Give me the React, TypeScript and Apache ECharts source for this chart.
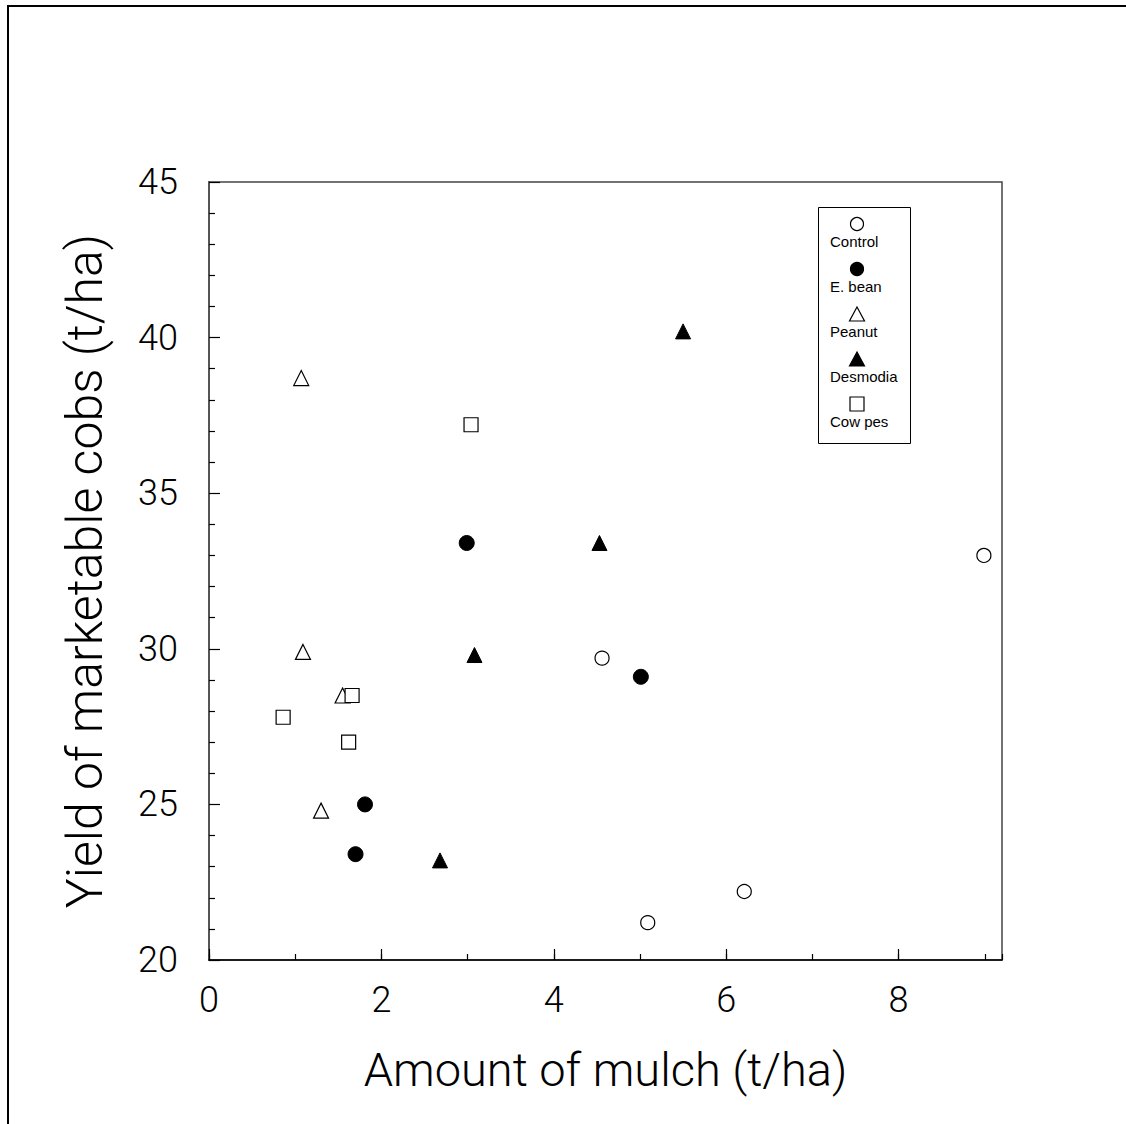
import React, { useEffect, useRef } from "react";
import * as echarts from "echarts";

const seriesNames = ["Control", "E. bean", "Peanut", "Desmodia", "Cow pes"];
const controlData = [[8.99, 33.0], [4.56, 29.7], [5.09, 21.2], [6.21, 22.2]];
const ebeanData = [[2.99, 33.4], [5.01, 29.1], [1.81, 25.0], [1.7, 23.4]];
const peanutData = [[1.07, 38.7], [1.09, 29.9], [1.55, 28.5], [1.3, 24.8]];
const desmodiaData = [[5.5, 40.2], [4.53, 33.4], [3.08, 29.8], [2.68, 23.2]];
const cowpesData = [[3.04, 37.2], [1.66, 28.5], [0.86, 27.8], [1.62, 27.0]];
const xTitle = "Amount of mulch (t/ha)";
const yTitle = "Yield of marketable cobs (t/ha)";

const FONT = "Roboto";

export default function App() {
  const ref = useRef<HTMLDivElement>(null);
  useEffect(() => {
    if (!ref.current) return;
    const chart = echarts.init(ref.current, null, { renderer: "svg" });
    const open = { color: "#fff", borderColor: "#000", borderWidth: 1.2, opacity: 1 };
    const filled = { color: "#000", borderColor: "#000", borderWidth: 1, opacity: 1 };
    const styles = [
      { symbol: "circle", size: 14, item: open },
      { symbol: "circle", size: 15, item: filled },
      { symbol: "triangle", size: 15, item: open },
      { symbol: "triangle", size: 15, item: filled },
      { symbol: "rect", size: 14, item: open },
    ];
    const datas = [controlData, ebeanData, peanutData, desmodiaData, cowpesData];

    const legendX = 857;
    const legendGraphics: any[] = [
      {
        type: "rect",
        shape: { x: 818.5, y: 207.5, width: 92, height: 236 },
        style: { fill: "#fff", stroke: "#000", lineWidth: 1 },
        z: 10,
      },
    ];
    seriesNames.forEach((name, i) => {
      const cy = 224 + i * 45;
      const st = styles[i];
      const fill = st.item.color;
      if (st.symbol === "circle") {
        legendGraphics.push({
          type: "circle",
          shape: { cx: legendX, cy, r: 6.5 },
          style: { fill, stroke: "#000", lineWidth: 1.2 },
          z: 11,
        });
      } else if (st.symbol === "triangle") {
        legendGraphics.push({
          type: "polygon",
          shape: { points: [[legendX, cy - 7], [legendX + 7.5, cy + 7], [legendX - 7.5, cy + 7]] },
          style: { fill, stroke: "#000", lineWidth: 1.2 },
          z: 11,
        });
      } else {
        legendGraphics.push({
          type: "rect",
          shape: { x: legendX - 7, y: cy - 7, width: 14, height: 14 },
          style: { fill, stroke: "#000", lineWidth: 1.2 },
          z: 11,
        });
      }
      legendGraphics.push({
        type: "text",
        x: 830,
        y: cy + 17,
        style: {
          text: name,
          fill: "#000",
          font: "15px 'Liberation Sans', Arial, sans-serif",
          textAlign: "left",
          textVerticalAlign: "middle",
        },
        z: 11,
      });
    });

    chart.setOption({
      animation: false,
      backgroundColor: "#fff",
      grid: {
        left: 209,
        top: 182,
        right: 124,
        bottom: 164,
        show: true,
        borderColor: "#444",
        borderWidth: 1.5,
        backgroundColor: "transparent",
      },
      xAxis: [
        {
          type: "value",
          min: 0,
          max: 9.2,
          interval: 2,
          name: xTitle,
          nameLocation: "middle",
          nameGap: 86,
          nameTextStyle: { fontFamily: FONT, fontWeight: 300, fontSize: 47, color: "#000" },
          axisLine: { show: true, lineStyle: { color: "#000", width: 1.5 } },
          axisTick: { show: true, inside: true, length: 11, lineStyle: { color: "#000", width: 1.2 } },
          axisLabel: {
            showMaxLabel: false,
            margin: 22,
            fontFamily: FONT,
            fontWeight: 300,
            fontSize: 36,
            color: "#000",
          },
          splitLine: { show: false },
        },
        {
          type: "value",
          min: 0,
          max: 9.2,
          interval: 1,
          position: "bottom",
          axisLine: { show: false },
          axisTick: { show: true, inside: true, length: 6, lineStyle: { color: "#000", width: 1.2 } },
          axisLabel: { show: false },
          splitLine: { show: false },
        },
      ],
      yAxis: {
        type: "value",
        min: 20,
        max: 45,
        interval: 5,
        name: yTitle,
        nameLocation: "middle",
        nameGap: 99,
        nameTextStyle: { fontFamily: FONT, fontWeight: 300, fontSize: 50, color: "#000" },
        axisLine: { show: true, lineStyle: { color: "#555", width: 2 } },
        axisTick: { show: true, inside: true, length: 11, lineStyle: { color: "#000", width: 1.2 } },
        minorTick: { show: true, splitNumber: 5, length: 6, lineStyle: { color: "#000", width: 1.2 } },
        axisLabel: {
          margin: 31,
          fontFamily: FONT,
          fontWeight: 300,
          fontSize: 36,
          color: "#000",
        },
        splitLine: { show: false },
        minorSplitLine: { show: false },
      },
      series: seriesNames.map((name, i) => ({
        name,
        type: "scatter",
        xAxisIndex: 0,
        symbol: styles[i].symbol,
        symbolSize: styles[i].size,
        itemStyle: styles[i].item,
        data: datas[i],
      })),
      graphic: [
        {
          type: "rect",
          shape: { x: 8, y: 6, width: 1300, height: 1300 },
          style: { fill: "none", stroke: "#000", lineWidth: 2 },
          z: 20,
          silent: true,
        },
        ...legendGraphics,
      ],
    });
    return () => chart.dispose();
  }, []);
  return (
    <div
      ref={ref}
      style={{ position: "fixed", left: 0, top: 0, width: 1126, height: 1124 }}
    />
  );
}
